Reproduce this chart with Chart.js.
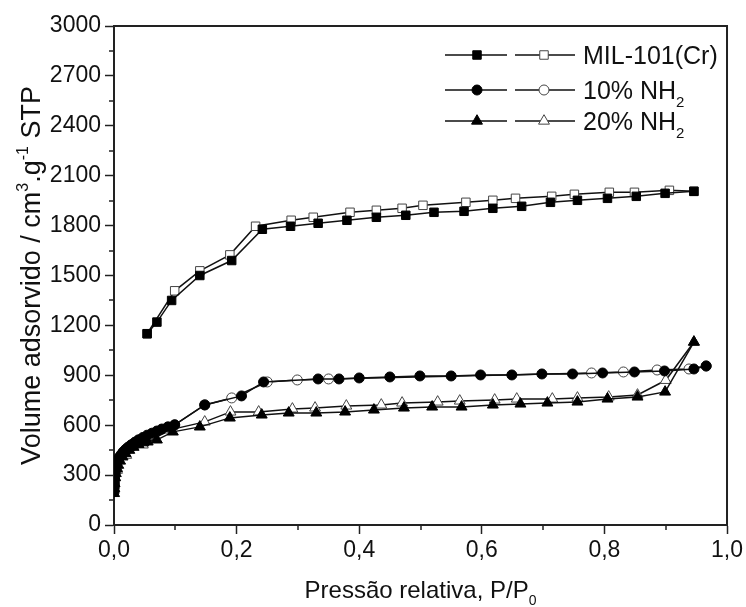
<!DOCTYPE html>
<html>
<head>
<meta charset="utf-8">
<script src="https://cdn.jsdelivr.net/npm/chart.js@4/dist/chart.umd.min.js"></script>
<style>
  html, body { margin: 0; padding: 0; background: #fff; }
  canvas { display: block; }
</style>
</head>
<body>
<canvas id="chart" width="746" height="607"></canvas>
<script>
(function() {
    'use strict';

    // series names (legend), subscripts drawn separately
    var seriesLabels = ['MIL-101(Cr)', '10% NH', '20% NH'];
    var seriesSubs = ['', '2', '2'];

    // MIL-101(Cr) adsorption / desorption
    var milAdsX = [0.054, 0.070, 0.094, 0.140, 0.192, 0.242, 0.288, 0.333, 0.380, 0.428, 0.476, 0.522, 0.571, 0.618, 0.665, 0.712, 0.756, 0.805, 0.852, 0.899, 0.946];
    var milAdsY = [1150, 1220, 1350, 1500, 1590, 1778, 1796, 1814, 1832, 1850, 1862, 1880, 1886, 1904, 1916, 1940, 1952, 1964, 1976, 1994, 2006];
    var milDesX = [0.946, 0.906, 0.849, 0.808, 0.751, 0.714, 0.655, 0.618, 0.574, 0.504, 0.470, 0.428, 0.385, 0.325, 0.289, 0.231, 0.189, 0.140, 0.099, 0.054];
    var milDesY = [2006, 2012, 2000, 2000, 1988, 1976, 1964, 1952, 1940, 1922, 1904, 1892, 1880, 1850, 1832, 1796, 1624, 1528, 1408, 1150];

    // 10% NH2
    var nh10AdsX = [0.0002, 0.0004, 0.0007, 0.001, 0.0015, 0.002, 0.003, 0.004, 0.005, 0.007, 0.009, 0.012, 0.015, 0.019, 0.023, 0.028, 0.034, 0.040, 0.047, 0.054, 0.062, 0.070, 0.078, 0.088, 0.099,
                    0.148, 0.208, 0.244, 0.333, 0.367, 0.400, 0.450, 0.499, 0.550, 0.598, 0.649, 0.698, 0.748, 0.797, 0.849, 0.898, 0.946, 0.966];
    var nh10AdsY = [200, 225, 250, 275, 300, 320, 340, 360, 375, 395, 410, 425, 440, 455, 468, 482, 498, 512, 526, 540, 552, 565, 577, 590, 602,
                    722, 776, 860, 878, 878, 884, 890, 896, 896, 902, 902, 908, 908, 914, 920, 926, 938, 956];
    var nh10DesX = [0.966, 0.938, 0.886, 0.831, 0.779, 0.350, 0.299, 0.250, 0.192, 0.148, 0.099, 0.060, 0.030, 0.010, 0.002];
    var nh10DesY = [956, 938, 932, 920, 914, 878, 872, 860, 764, 722, 602, 545, 480, 410, 320];

    // 20% NH2
    var nh20AdsX = [0.0002, 0.0005, 0.001, 0.002, 0.003, 0.005, 0.007, 0.010, 0.014, 0.019, 0.025, 0.032, 0.040, 0.048, 0.055, 0.070, 0.096,
                    0.140, 0.189, 0.241, 0.285, 0.330, 0.377, 0.424, 0.473, 0.519, 0.567, 0.618, 0.663, 0.707, 0.756, 0.805, 0.854, 0.899, 0.946];
    var nh20AdsY = [190, 220, 250, 285, 310, 340, 360, 385, 410, 430, 450, 468, 485, 495, 500, 512, 560,
                    590, 644, 662, 674, 674, 680, 692, 704, 710, 710, 722, 728, 734, 740, 758, 770, 800, 1100];
    var nh20DesX = [0.946, 0.900, 0.854, 0.807, 0.756, 0.715, 0.657, 0.621, 0.564, 0.528, 0.470, 0.436, 0.379, 0.328, 0.291, 0.236, 0.190, 0.148, 0.091, 0.047, 0.020, 0.005];
    var nh20DesY = [1100, 870, 782, 770, 764, 758, 758, 752, 746, 740, 734, 722, 716, 704, 698, 680, 680, 620, 572, 482, 420, 330];

    // axis ticks
    var xTicks = [0, 0.2, 0.4, 0.6, 0.8, 1.0];
    var yTicks = [0, 300, 600, 900, 1200, 1500, 1800, 2100, 2400, 2700, 3000];

    var FONT = "'Liberation Sans', Arial, sans-serif";
    var INK = '#111';
    var AXIS = '#222';

    function pts(xs, ys) {
        return xs.map(function(x, i) { return { x: x, y: ys[i] }; });
    }

    function series(data, style, radius, filled) {
        return {
            data: data,
            showLine: true,
            borderColor: '#111',
            borderWidth: 1.5,
            pointStyle: style,
            pointRadius: radius,
            pointBackgroundColor: filled ? '#000' : '#fff',
            pointBorderColor: filled ? '#000' : '#444',
            pointBorderWidth: 1,
            tension: 0
        };
    }

    var styles = ['rect', 'circle', 'triangle'];
    var radii = [6, 5, 6.3];

    // filled first so they sit on top
    var datasets = [
        series(pts(milAdsX, milAdsY), 'rect', 6, true),
        series(pts(nh10AdsX, nh10AdsY), 'circle', 5, true),
        series(pts(nh20AdsX, nh20AdsY), 'triangle', 6.3, true),
        series(pts(milDesX, milDesY), 'rect', 6, false),
        series(pts(nh10DesX, nh10DesY), 'circle', 5, false),
        series(pts(nh20DesX, nh20DesY), 'triangle', 6.3, false)
    ];

    // text with sub/superscripts: parts = [[text, shift]] shift 1 = sup, -1 = sub
    function richWidth(ctx, parts, size) {
        var w = 0;
        parts.forEach(function(p) {
            ctx.font = (p[1] ? Math.round(size * 0.6) : size) + 'px ' + FONT;
            w += ctx.measureText(p[0]).width;
        });
        return w;
    }

    function drawRich(ctx, parts, x, baseline, size) {
        parts.forEach(function(p) {
            var s = p[1] ? Math.round(size * 0.6) : size;
            var dy = p[1] === 1 ? -size * 0.45 : (p[1] === -1 ? size * 0.3 : 0);
            ctx.font = s + 'px ' + FONT;
            ctx.fillText(p[0], x, baseline + dy);
            x += ctx.measureText(p[0]).width;
        });
    }

    function marker(ctx, style, r, x, y, filled) {
        ctx.save();
        ctx.fillStyle = filled ? '#000' : '#fff';
        ctx.strokeStyle = filled ? '#000' : '#444';
        ctx.lineWidth = 1;
        ctx.beginPath();
        if (style === 'rect') {
            var h = r * Math.SQRT1_2;
            ctx.rect(x - h, y - h, 2 * h, 2 * h);
        } else if (style === 'circle') {
            ctx.arc(x, y, r, 0, Math.PI * 2);
        } else {
            ctx.moveTo(x, y - r);
            ctx.lineTo(x + 0.866 * r, y + 0.5 * r);
            ctx.lineTo(x - 0.866 * r, y + 0.5 * r);
            ctx.closePath();
        }
        ctx.fill();
        ctx.stroke();
        ctx.restore();
    }

    var decor = {
        id: 'decor',
        afterDraw: function(chart) {
            var ctx = chart.ctx;
            var a = chart.chartArea;
            var xs = chart.scales.x, ys = chart.scales.y;
            ctx.save();

            // frame top / right
            ctx.strokeStyle = AXIS;
            ctx.lineWidth = 2;
            ctx.beginPath();
            ctx.moveTo(a.left, a.top);
            ctx.lineTo(a.right, a.top);
            ctx.lineTo(a.right, a.bottom);
            ctx.stroke();

            // minor ticks
            ctx.lineWidth = 1.5;
            ctx.beginPath();
            for (var v = 0.1; v < 1; v += 0.2) {
                var px = Math.round(xs.getPixelForValue(v));
                ctx.moveTo(px, a.bottom);
                ctx.lineTo(px, a.bottom + 5);
            }
            for (var w = 150; w < 3000; w += 300) {
                var py = Math.round(ys.getPixelForValue(w));
                ctx.moveTo(a.left, py);
                ctx.lineTo(a.left - 5, py);
            }
            ctx.stroke();

            ctx.fillStyle = INK;
            ctx.textBaseline = 'alphabetic';
            ctx.textAlign = 'left';

            // x title
            var xt = [['Pressão relativa, P/P', 0], ['0', -1]];
            var xw = richWidth(ctx, xt, 24);
            drawRich(ctx, xt, (a.left + a.right) / 2 - xw / 2, 598, 24);

            // y title
            var yt = [['Volume adsorvido / cm', 0], ['3', 1], ['.g', 0], ['-1', 1], [' STP', 0]];
            var yw = richWidth(ctx, yt, 27);
            ctx.save();
            ctx.translate(40, (a.top + a.bottom) / 2);
            ctx.rotate(-Math.PI / 2);
            drawRich(ctx, yt, -yw / 2, 0, 27);
            ctx.restore();

            // legend
            var rowsY = [55, 90, 121];
            for (var i = 0; i < 3; i++) {
                var ry = rowsY[i];
                ctx.strokeStyle = '#111';
                ctx.lineWidth = 1.5;
                ctx.beginPath();
                ctx.moveTo(445, ry); ctx.lineTo(507, ry);
                ctx.moveTo(515, ry); ctx.lineTo(575, ry);
                ctx.stroke();
                marker(ctx, styles[i], radii[i], 477, ry, true);
                marker(ctx, styles[i], radii[i], 544, ry, false);
                ctx.fillStyle = INK;
                var parts = [[seriesLabels[i], 0]];
                if (seriesSubs[i]) parts.push([seriesSubs[i], -1]);
                drawRich(ctx, parts, 583, ry + 9, 25);
            }
            ctx.restore();
        }
    };

    function comma(v) {
        return v.toFixed(1).replace('.', ',');
    }

    new Chart(document.getElementById('chart'), {
        type: 'scatter',
        data: { datasets: datasets },
        options: {
            responsive: false,
            animation: false,
            devicePixelRatio: 1,
            layout: { padding: { left: 0, right: 17, top: 26, bottom: 0 } },
            plugins: {
                legend: { display: false },
                tooltip: { enabled: false }
            },
            scales: {
                x: {
                    type: 'linear',
                    min: 0,
                    max: 1,
                    afterFit: function(s) { s.height = 82; },
                    afterBuildTicks: function(s) {
                        s.ticks = xTicks.map(function(v) { return { value: v }; });
                    },
                    ticks: {
                        callback: function(v) { return comma(v); },
                        font: { family: FONT, size: 23 },
                        color: INK,
                        padding: 3,
                        maxRotation: 0,
                        autoSkip: false
                    },
                    grid: { drawOnChartArea: false, tickLength: 9, tickColor: AXIS, tickWidth: 1.5 },
                    border: { color: AXIS, width: 2 }
                },
                y: {
                    min: 0,
                    max: 3000,
                    afterFit: function(s) { s.width = 114; },
                    afterBuildTicks: function(s) {
                        s.ticks = yTicks.map(function(v) { return { value: v }; });
                    },
                    ticks: {
                        callback: function(v) { return String(v); },
                        font: { family: FONT, size: 23 },
                        color: INK,
                        padding: 4,
                        autoSkip: false
                    },
                    grid: { drawOnChartArea: false, tickLength: 9, tickColor: AXIS, tickWidth: 1.5 },
                    border: { color: AXIS, width: 2 }
                }
            }
        },
        plugins: [decor]
    });
})();
</script>
</body>
</html>
